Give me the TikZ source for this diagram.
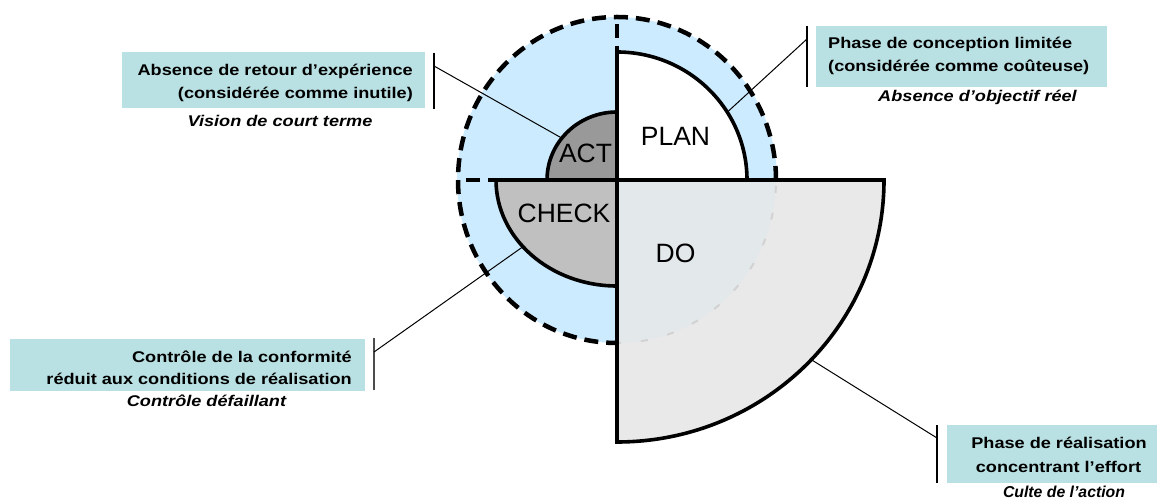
\documentclass[tikz,border=0pt]{standalone}
\usepackage{fontspec}
\newfontfamily\labs[FakeStretch=1.17]{Liberation Sans}
\newfontfamily\labn{Liberation Sans}
\usetikzlibrary{calc}
\definecolor{ringblue}{HTML}{CCEBFF}
\definecolor{boxteal}{HTML}{B9E0E2}
\definecolor{actgray}{HTML}{999999}
\definecolor{checkgray}{HTML}{C0C0C0}
\definecolor{dogray}{HTML}{E9E9E9}
\definecolor{dotint}{HTML}{E3E8EB}
\begin{document}
\begin{tikzpicture}[x=1pt,y=1pt,
  outl/.style={draw=black, line width=3.6pt, line join=miter},
  ringdash/.style={draw=black, line width=4.5pt, dash pattern=on 14pt off 8pt},
  boxfill/.style={fill=boxteal, draw=none, inner sep=0pt, anchor=north west},
  bl/.style={font=\labs\bfseries\fontsize{15.5}{18}\selectfont, inner sep=0pt},
  il/.style={font=\labs\bfseries\itshape\fontsize{15.5}{18}\selectfont, inner sep=0pt},
  iln/.style={font=\labn\bfseries\itshape\fontsize{15.8}{18}\selectfont, inner sep=0pt},
  pl/.style={font=\labn\fontsize{26.5}{30}\selectfont, inner sep=0pt},
  callout/.style={draw=black, line width=1pt},
  brk/.style={draw=black, line width=1.1pt}]

\useasboundingbox (0,0) rectangle (1166,503);
\coordinate (C) at (617,323);

% light blue ring area
\fill[ringblue] (C) ellipse [x radius=160, y radius=163];

% DO quadrant fill
\path[fill=dogray] (C) -- ++(267,0) arc[start angle=0,end angle=-90,x radius=267,y radius=262] -- cycle;
\path[fill=dotint] (C) -- ++(159,0) arc[start angle=0,end angle=-90,x radius=159,y radius=163] -- cycle;
\draw[gray!35, line width=2pt, dash pattern=on 7pt off 20pt, dash phase=-6pt] ($(C)+(159,0)$) arc[start angle=0,end angle=-90,x radius=159,y radius=163];

% dashed ring and its radii
\draw[ringdash] ($(C)+(159,0)$) arc[start angle=0,end angle=270,x radius=159,y radius=163];
\draw[ringdash, dash phase=15pt] ($(C)+(0,163)$) -- (C);
\draw[ringdash, dash phase=14pt] ($(C)+(-159,0)$) -- (C);

% quadrants
\draw[outl] (C) -- ++(267,0) arc[start angle=0,end angle=-90,x radius=267,y radius=262] -- cycle;
\filldraw[outl, fill=white] (C) -- ++(130,0) arc[start angle=0,end angle=90,x radius=130,y radius=128] -- cycle;
\filldraw[outl, fill=actgray] (C) -- ++(-70,0) arc[start angle=180,end angle=90,x radius=70,y radius=68] -- cycle;
\filldraw[outl, fill=checkgray] (C) -- ++(-121,0) arc[start angle=180,end angle=270,x radius=121,y radius=106] -- cycle;

% quadrant labels
\node[pl, anchor=base] (act) at (585.5,340) {ACT};
\node[pl, anchor=base] (plan) at (675.5,357) {PLAN};
\node[pl, anchor=base] (check) at (564,280) {CHECK};
\node[pl, anchor=base] (do) at (675.5,240) {DO};

% points on the arcs
\coordinate (actP) at ($(C)+(142:70pt and 68pt)$);
\coordinate (planP) at ($(C)+(32:130pt and 128pt)$);
\coordinate (checkP) at ($(C)+(219:121pt and 106pt)$);
\coordinate (doP) at ($(C)+(-43.3:267pt and 262pt)$);

% brackets
\coordinate (b1t) at (434,450); \coordinate (b1b) at (434,394); \coordinate (b1m) at (434,437);
\coordinate (b2t) at (807,477); \coordinate (b2b) at (807,416); \coordinate (b2m) at (807,464);
\coordinate (b3t) at (374,165); \coordinate (b3b) at (374,113); \coordinate (b3m) at (374,151);
\coordinate (b4t) at (937,78);  \coordinate (b4b) at (937,20);  \coordinate (b4m) at (937,65);
\draw[brk] (b1t) -- (b1b);
\draw[brk] (b2t) -- (b2b);
\draw[draw=black!70, line width=1.5pt] (b3t) -- (b3b);
\draw[brk] (b4t) -- (b4b);
\draw[callout] (b1m) -- (actP);
\draw[callout] (b2m) -- (planP);
\draw[callout] (b3m) -- (checkP);
\draw[callout] (b4m) -- (doP);

% text boxes
\node[boxfill, minimum width=303pt, minimum height=56pt] (box1) at (122,451) {};
\node[boxfill, minimum width=291pt, minimum height=61pt] (box2) at (816,477) {};
\node[boxfill, minimum width=355pt, minimum height=52pt] (box3) at (10,164) {};
\node[boxfill, minimum width=210pt, minimum height=58pt] (box4) at (947,78) {};

\node[bl, anchor=base east] (t1a) at (413,427.3) {Absence de retour d’expérience};
\node[bl, anchor=base east] (t1b) at (413,404.7) {(considérée comme inutile)};
\node[il, anchor=base] (t1c) at (280,376) {Vision de court terme};

\node[bl, anchor=base west] (t2a) at (828,454) {Phase de conception limitée};
\node[bl, anchor=base west] (t2b) at (828,431.3) {(considérée comme coûteuse)};
\node[il, anchor=base] (t2c) at (977.5,401.3) {Absence d’objectif réel};

\node[bl, anchor=base east] (t3a) at (352,140.3) {Contrôle de la conformité};
\node[bl, anchor=base east] (t3b) at (352,118.7) {réduit aux conditions de réalisation};
\node[il, anchor=base] (t3c) at (206.5,96) {Contrôle défaillant};

\node[bl, anchor=base] (t4a) at (1059,54) {Phase de réalisation};
\node[bl, anchor=base] (t4b) at (1058.5,30.3) {concentrant l’effort};
\node[iln, anchor=base] (t4c) at (1064,6) {Culte de l’action};
\end{tikzpicture}
\end{document}
